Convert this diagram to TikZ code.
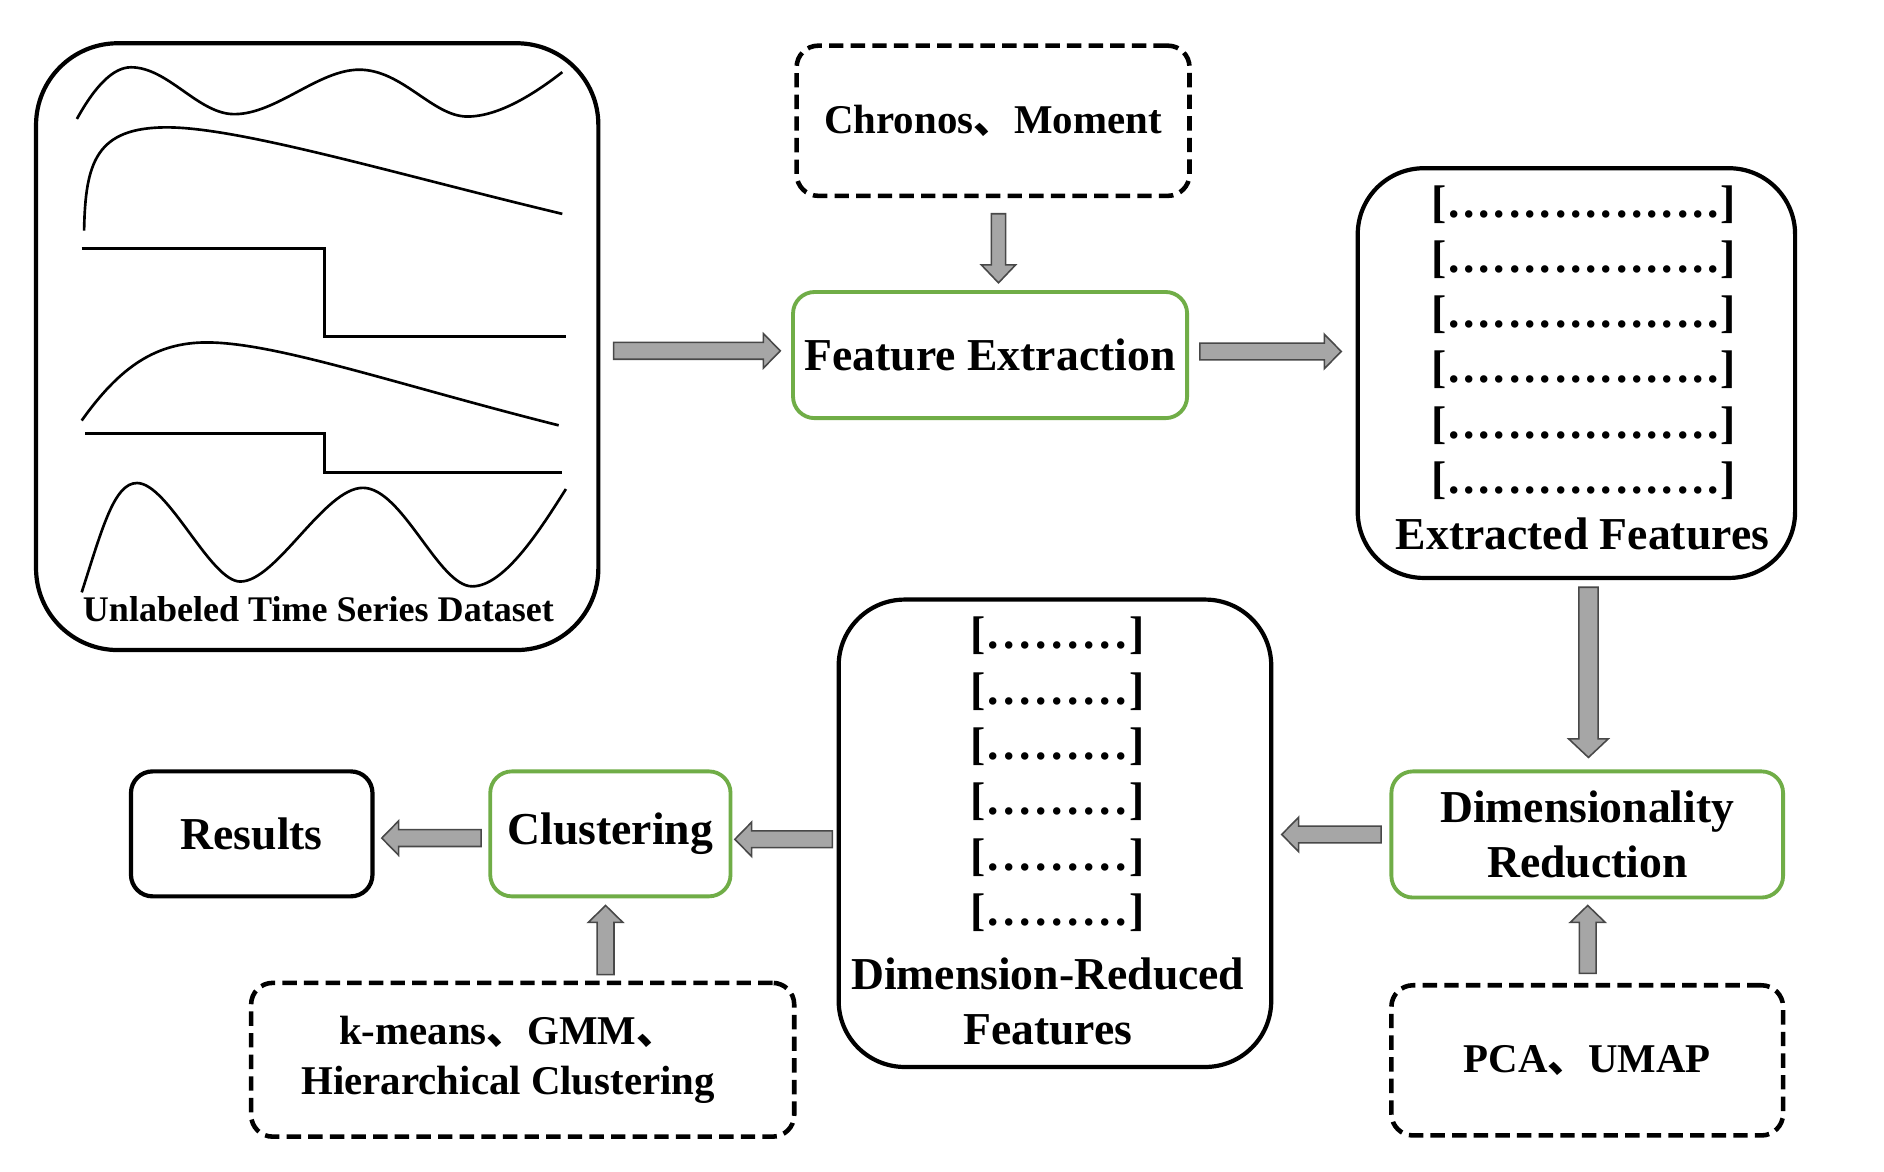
\documentclass[tikz,border=0pt]{standalone}
\usepackage{fontspec}
\setmainfont{Liberation Serif}
\newfontfamily\cjkfont{Noto Sans CJK SC}
\usetikzlibrary{calc}
\definecolor{boxgreen}{HTML}{70AD47}
\definecolor{arrfill}{HTML}{A6A6A6}
\definecolor{arrline}{HTML}{484848}
\newcommand\dun{{\cjkfont\bfseries 、}}
\newcommand\vecdots[2]{[\foreach \i in {1,...,#1}{\kern#2.\kern#2}]}
\newcommand\bigf{\fontsize{38}{46}\selectfont\bfseries}
\newcommand\midf{\fontsize{34}{41.6}\selectfont\bfseries}
\newcommand\smallf{\fontsize{30}{36}\selectfont\bfseries}
\def\arrS{7pt}\def\arrH{14.3pt}\def\arrL{14pt}
\tikzset{
  arrS/.store in=\arrS, arrH/.store in=\arrH, arrL/.store in=\arrL,
  blackbox/.style={draw=black, line width=3.5pt, rounded corners=#1, inner sep=0pt, align=center},
  blackbox/.default=18pt,
  greenbox/.style={draw=boxgreen, line width=3.2pt, rounded corners=18pt, inner sep=0pt, align=center},
  dashbox/.style={draw=black, line width=3.8pt, dash pattern=on 12pt off 6pt, rounded corners=18pt, inner sep=0pt, align=center},
  barrow/.style={draw=arrline, fill=arrfill, line width=1.3pt, line join=miter},
  harrow/.style={to path={let \p1=(\tikztostart), \p2=(\tikztotarget), \n1={sign(\x2-\x1)} in
     ({\x1},{\y1-\arrS}) -- ({\x2-(\n1)*\arrL},{\y1-\arrS}) -- ({\x2-(\n1)*\arrL},{\y1-\arrH}) -- ({\x2},{\y1})
     -- ({\x2-(\n1)*\arrL},{\y1+\arrH}) -- ({\x2-(\n1)*\arrL},{\y1+\arrS}) -- ({\x1},{\y1+\arrS}) -- cycle}},
  varrow/.style={to path={let \p1=(\tikztostart), \p2=(\tikztotarget), \n1={sign(\y2-\y1)} in
     ({\x1-\arrS},{\y1}) -- ({\x1-\arrS},{\y2-(\n1)*\arrL}) -- ({\x1-\arrH},{\y2-(\n1)*\arrL}) -- ({\x1},{\y2})
     -- ({\x1+\arrH},{\y2-(\n1)*\arrL}) -- ({\x1+\arrS},{\y2-(\n1)*\arrL}) -- ({\x1+\arrS},{\y1}) -- cycle}},
  curve/.style={line width=2.2pt, line join=round}
}
\begin{document}
\begin{tikzpicture}[x=1pt,y=-1pt]
\useasboundingbox (0,0) rectangle (1568,975);
\fill[white] (0,0) rectangle (1568,975);

% boxes
\node[blackbox=68pt, minimum width=468pt, minimum height=505pt] (ds) at (264,288.5) {};
\node[dashbox, minimum width=327pt, minimum height=125pt, font=\midf] (chr) at (826.5,100.5) {Chronos\dun Moment};
\node[greenbox, minimum width=328pt, minimum height=105pt, font=\bigf] (fe) at (824,295.5) {Feature Extraction};
\node[blackbox=55pt, minimum width=364pt, minimum height=341pt] (ef) at (1312,310.5) {};
\node[greenbox, minimum width=326pt, minimum height=105pt, font=\bigf] (dr) at (1321,694.5) {Dimensionality\\Reduction};
\node[dashbox, minimum width=326pt, minimum height=125pt, font=\midf] (pca) at (1321,882.5) {PCA\dun UMAP};
\node[blackbox=55pt, minimum width=360pt, minimum height=389pt] (drf) at (878,693.5) {};
\node[greenbox, minimum width=200pt, minimum height=104pt, font=\bigf] (cl) at (508,694) {Clustering};
\node[blackbox=18pt, minimum width=201pt, minimum height=104pt, font=\bigf] (res) at (209.5,694) {Results};
\node[dashbox, minimum width=452pt, minimum height=128pt, font=\midf] (km) at (435,882) {k-means\dun GMM\dun\kern24pt\\Hierarchical Clustering\kern24pt};

% dataset curves
\draw[curve] (64,99) .. controls (80,70) and (95,56) .. (109,56) .. controls (140,56) and (165,95) .. (195,95)
  .. controls (230,95) and (265,58) .. (299,58) .. controls (335,58) and (360,97) .. (389,97)
  .. controls (415,97) and (445,78) .. (468,60);
\draw[curve] (70,192) .. controls (71,135) and (80,106) .. (139,106) .. controls (200,106) and (330,145) .. (468,178);
\draw[curve, line join=miter] (68,207) -- (270,207) -- (270,280) -- (471,280);
\draw[curve] (68,350) .. controls (100,305) and (130,285) .. (172,285) .. controls (230,285) and (330,320) .. (465,354);
\draw[curve, line join=miter] (71,361) -- (270,361) -- (270,393) -- (468,393);
\draw[curve] (68,493) .. controls (85,440) and (95,402) .. (114,402) .. controls (140,402) and (175,484) .. (200,484)
  .. controls (230,484) and (270,406) .. (302,406) .. controls (335,406) and (365,488) .. (393,488)
  .. controls (420,488) and (450,440) .. (471,407);
\node[font=\smallf] (dsl) at (265,507) {Unlabeled Time Series Dataset};

% feature rows
\foreach \k/\yy in {1/181,2/227,3/272.5,4/318,5/365,6/411}
  \node[font=\bigf, anchor=base, inner sep=0pt] (efr\k) at (1318,\yy) {\vecdots{18}{1.6pt}};
\node[font=\bigf] (efl) at (1317,444) {Extracted Features};
\foreach \k/\yy in {1/540,2/586,3/632,4/678,5/724.5,6/770.5}
  \node[font=\bigf, anchor=base, inner sep=0pt] (drr\k) at (880,\yy) {\vecdots{9}{1.9pt}};
\node[font=\bigf, align=center] (drfl) at (872,833.5) {Dimension-Reduced\\Features};

% arrows
\draw[barrow, harrow] ([xshift=11pt,yshift=-3.5pt]ds.east) to ([xshift=-9pt]fe.west);
\draw[barrow, harrow] ([xshift=9pt,yshift=3pt]fe.east) to ([xshift=-12pt]ef.west);
\draw[barrow, varrow, arrS=5.9pt, arrL=15pt] ([xshift=4.5pt,yshift=-13pt]chr.south) to ([yshift=6pt]fe.north);
\draw[barrow, varrow, arrS=8pt, arrH=16.5pt, arrL=15.5pt] ([xshift=10pt,yshift=-6pt]ef.south) to ([yshift=10pt]dr.north);
\draw[barrow, varrow, arrH=14.5pt] ([xshift=0.4pt,yshift=8pt]pca.north) to ([yshift=-5pt]dr.south);
\draw[barrow, harrow] ([xshift=-7pt]dr.west) to ([xshift=7pt]drf.east);
\draw[barrow, harrow] ([xshift=-3.5pt,yshift=-5pt]drf.west) to ([xshift=2pt]cl.east);
\draw[barrow, harrow] ([xshift=-6pt,yshift=-3.5pt]cl.west) to ([xshift=6pt]res.east);
\draw[barrow, varrow] ([xshift=69pt,yshift=5pt]km.north) to ([yshift=-6pt]cl.south);
\end{tikzpicture}
\end{document}
